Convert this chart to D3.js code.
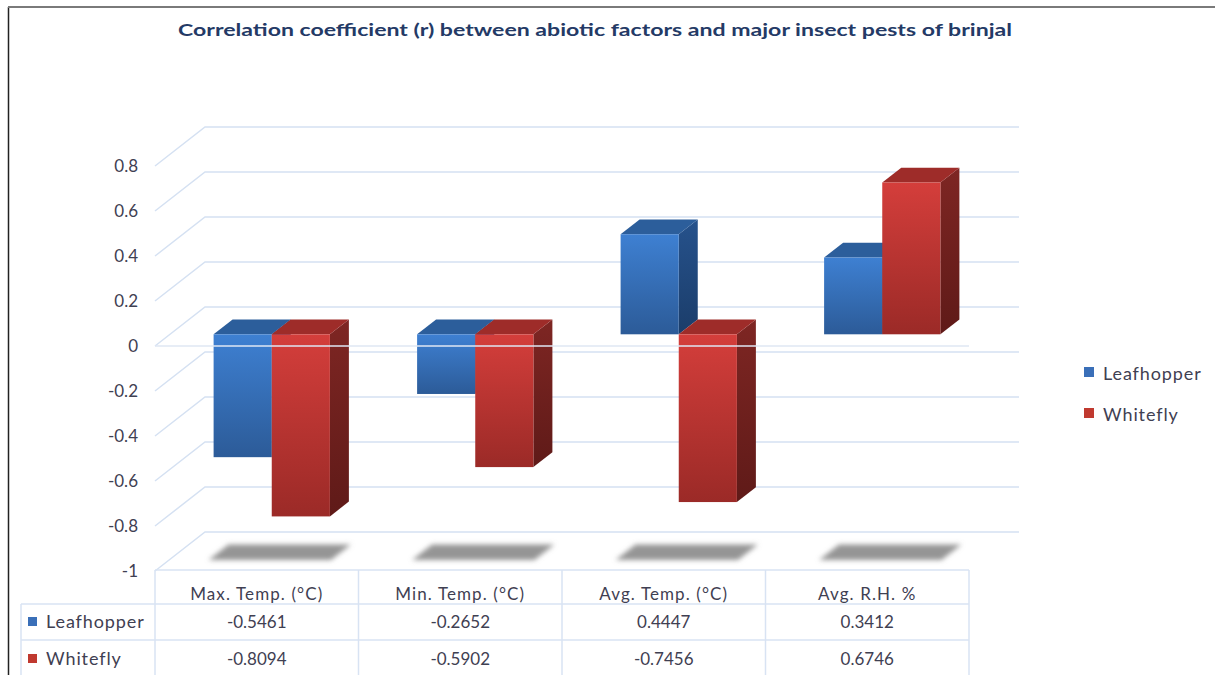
<!DOCTYPE html>
<meta charset="utf-8">
<style>
body { margin: 0; padding: 0; background: #fff; }
svg { display: block; }
text { font-family: Lato, "Open Sans", sans-serif; fill: #3f4052; }
</style>
<body>
<svg id="chart" width="1215" height="675"></svg>
<script src="https://cdn.jsdelivr.net/npm/d3@7"></script>
<script>

var categories = ["Max. Temp. (°C)", "Min. Temp. (°C)", "Avg. Temp. (°C)", "Avg. R.H. %"];
var seriesNames = ["Leafhopper", "Whitefly"];
var leafhopper = [-0.5461, -0.2652, 0.4447, 0.3412];
var whitefly = [-0.8094, -0.5902, -0.7456, 0.6746];
var yTicks = [0.8, 0.6, 0.4, 0.2, 0, -0.2, -0.4, -0.6, -0.8, -1];

var values = [leafhopper, whitefly];

var svg = d3.select("#chart");
var defs = svg.append("defs");

// depth vector of the 3d box and where bars sit inside it
var DX = 50, DY = -39, f1 = 0.3, f2 = 0.68;

var y = d3.scaleLinear().domain([-1, 0.8]).range([571, 166]);
var x0 = d3.scaleBand().domain(categories).range([155, 969]);
var cluster = x0.bandwidth() * 2 / 3.5;
var x1 = d3.scaleBand().domain(seriesNames).range([0, cluster]);

function proj(px, v, z) { return [px + z * DX, y(v) + z * DY]; }
function poly(pts) { return pts.map(function(p){ return p.join(","); }).join(" "); }
// excel shows a plain hyphen, not the unicode minus
function num(fmt) { var f = d3.format(fmt); return function(d){ return f(d).replace("\u2212", "-"); }; }

var colors = {
  Leafhopper: { front: ["#3e80d2", "#2c5b98"], side: ["#26528c", "#1b3d6a"], top: "#2c5e9b", key: "#3a6fb8" },
  Whitefly:   { front: ["#d43e3b", "#9b2a27"], side: ["#7e2623", "#5f1a18"], top: "#9e2c29", key: "#c0392f" }
};
seriesNames.forEach(function(s, i) {
  ["front", "side"].forEach(function(f) {
    var g = defs.append("linearGradient").attr("id", "g" + i + f)
      .attr("x1", 0).attr("y1", 0).attr("x2", 0).attr("y2", 1);
    g.append("stop").attr("offset", "0%").attr("stop-color", colors[s][f][0]);
    g.append("stop").attr("offset", "100%").attr("stop-color", colors[s][f][1]);
  });
});
defs.append("filter").attr("id", "blur").attr("x", "-20%").attr("y", "-100%")
  .attr("width", "140%").attr("height", "300%")
  .append("feGaussianBlur").attr("stdDeviation", 2.6);

// border
svg.append("line").attr("x1", 8.5).attr("y1", 7).attr("x2", 8.5).attr("y2", 675)
  .attr("stroke", "#222").attr("stroke-width", 1.5);
svg.append("line").attr("x1", 8).attr("y1", 7).attr("x2", 1215).attr("y2", 7)
  .attr("stroke", "#7a7a7a").attr("stroke-width", 2);

// title
svg.append("text").attr("x", 595).attr("y", 36).attr("text-anchor", "middle")
  .attr("textLength", 834).attr("lengthAdjust", "spacingAndGlyphs")
  .style("font-size", "17px").style("font-weight", "bold").style("fill", "#243a66")
  .text("Correlation coefficient  (r) between abiotic factors and major insect pests of brinjal");

// walls: gridlines on back wall and side wall
var grid = svg.append("g").attr("stroke", "#d5e1f2").attr("stroke-width", 1.5).attr("fill", "none");
var xL = x0.range()[0], xR = x0.range()[1];
yTicks.forEach(function(t) {
  var a = proj(xL, t, 0), b = proj(xL, t, 1), c = proj(xR, t, 1);
  grid.append("polyline").attr("points", poly([a, b, c]));
});

// y labels
svg.append("g").selectAll("text").data(yTicks).join("text")
  .attr("x", 138).attr("y", function(d){ return y(d) + 6; })
  .attr("text-anchor", "end").style("font-size", "17px")
  .text(num(""));

// floor shadows
var shadows = svg.append("g").attr("filter", "url(#blur)");
categories.forEach(function(c) {
  var l = x0(c) + (x0.bandwidth() - cluster) / 2, r = l + cluster;
  shadows.append("polygon")
    .attr("points", poly([proj(l - 4, -1, f1 - 0.02), proj(r + 2, -1, f1 - 0.02), proj(r + 2, -1, f2), proj(l - 4, -1, f2)]))
    .attr("fill", "#959595");
});

// bars, left to right so that side faces are covered properly
var bars = svg.append("g");
categories.forEach(function(c, ci) {
  var off = x0(c) + (x0.bandwidth() - cluster) / 2;
  seriesNames.forEach(function(s, si) {
    var v = values[si][ci];
    var l = off + x1(s), r = l + x1.bandwidth();
    var vt = Math.max(v, 0), vb = Math.min(v, 0);
    var g = bars.append("g");
    g.append("polygon").attr("fill", "url(#g" + si + "side)")
      .attr("points", poly([proj(r, vt, f1), proj(r, vt, f2), proj(r, vb, f2), proj(r, vb, f1)]));
    g.append("polygon").attr("fill", colors[s].top)
      .attr("points", poly([proj(l, vt, f1), proj(r, vt, f1), proj(r, vt, f2), proj(l, vt, f2)]));
    var p = proj(l, vt, f1), q = proj(r, vb, f1);
    g.append("rect").attr("x", p[0]).attr("y", p[1])
      .attr("width", q[0] - p[0]).attr("height", q[1] - p[1])
      .attr("fill", "url(#g" + si + "front)");
  });
});

// front edge of the zero plane, over the bars
svg.append("line").attr("x1", xL).attr("x2", xR).attr("y1", y(0)).attr("y2", y(0))
  .attr("stroke", "#dfe7f4").attr("stroke-width", 2).attr("opacity", 0.75);

// legend
var leg = svg.append("g");
seriesNames.forEach(function(s, i) {
  leg.append("rect").attr("x", 1084).attr("y", 367 + i * 41).attr("width", 10).attr("height", 10)
    .attr("fill", colors[s].key);
  leg.append("text").attr("x", 1103).attr("y", 380 + i * 41)
    .style("font-size", "18px").style("letter-spacing", "0.9px").text(s);
});

// data table
var tbl = svg.append("g");
function hl(a, b, yy) {
  tbl.append("line").attr("x1", a).attr("x2", b).attr("y1", yy).attr("y2", yy)
    .attr("stroke", "#d8e3f3").attr("stroke-width", 1.5);
}
function vl(xx, a, b) {
  tbl.append("line").attr("x1", xx).attr("x2", xx).attr("y1", a).attr("y2", b)
    .attr("stroke", "#d8e3f3").attr("stroke-width", 1.5);
}
var rowTop = [570, 604, 640];
hl(xL, xR, rowTop[0]);
hl(21, xR, rowTop[1]);
hl(21, xR, rowTop[2]);
vl(21, rowTop[1], 675);
categories.forEach(function(c) { vl(x0(c), rowTop[0], 675); });
vl(xR, rowTop[0], 675);

tbl.selectAll("text.hd").data(categories).join("text").attr("class", "hd")
  .attr("x", function(d){ return x0(d) + x0.bandwidth() / 2; }).attr("y", 600)
  .attr("text-anchor", "middle").style("font-size", "17px").style("letter-spacing", "1.1px")
  .text(function(d){ return d; });

seriesNames.forEach(function(s, si) {
  var base = [628, 665][si];
  tbl.append("rect").attr("x", 28).attr("y", base - 11).attr("width", 9).attr("height", 9)
    .attr("fill", colors[s].key);
  tbl.append("text").attr("x", 46).attr("y", base)
    .style("font-size", "18px").style("letter-spacing", "0.9px").text(s);
  tbl.selectAll("text.v" + si).data(values[si]).join("text").attr("class", "v" + si)
    .attr("x", function(d, i){ return x0(categories[i]) + x0.bandwidth() / 2; })
    .attr("y", base).attr("text-anchor", "middle").style("font-size", "17px")
    .text(num(".4f"));
});

</script>
</body>
